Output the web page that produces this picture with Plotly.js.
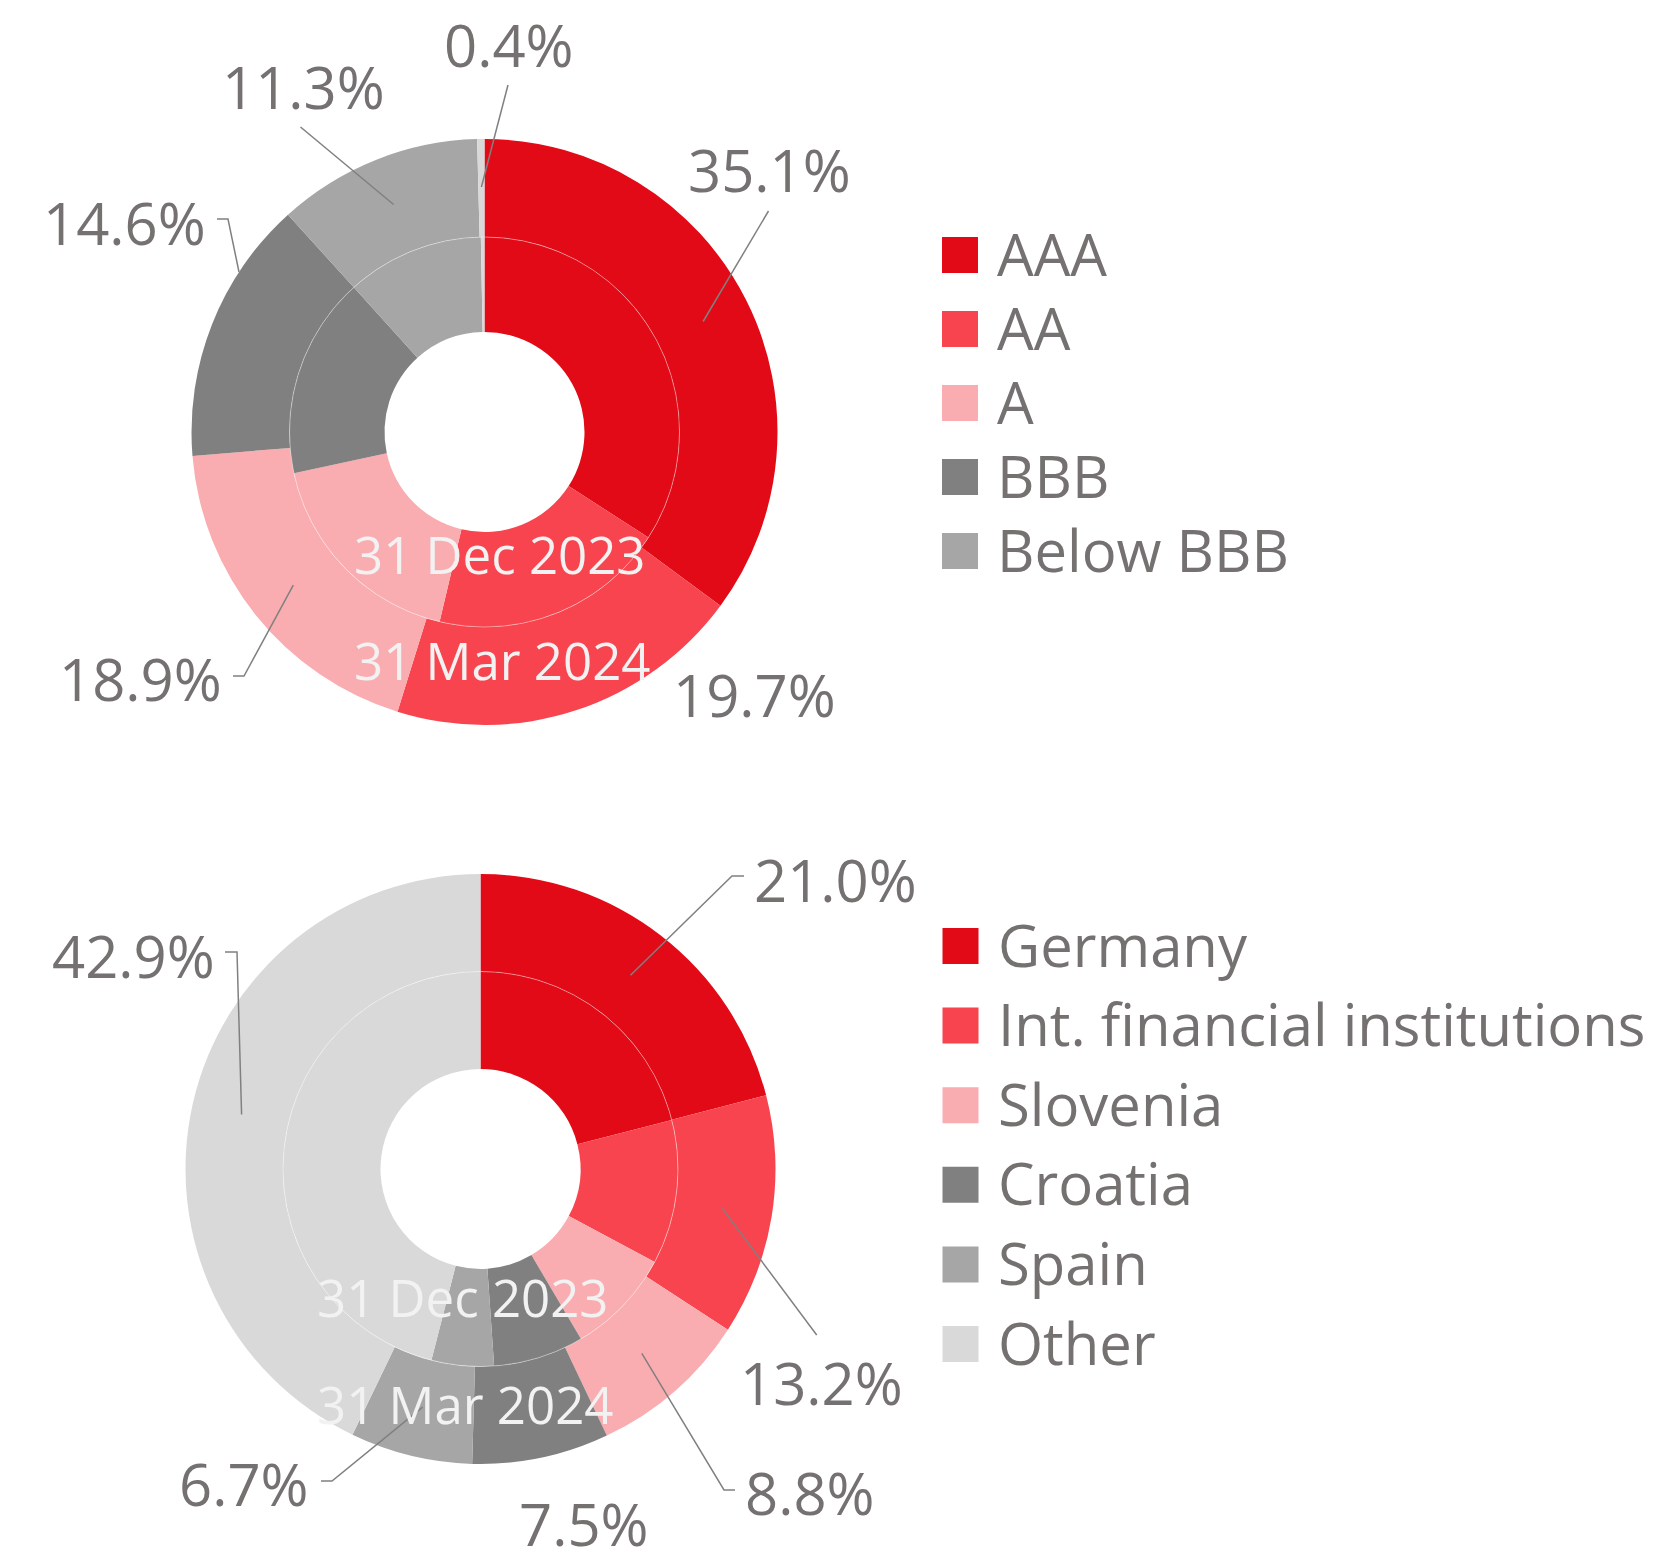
<!DOCTYPE html>
<html><head><meta charset="utf-8">
<script src="https://cdn.plot.ly/plotly-3.0.1.min.js"></script>
<style>html,body{margin:0;padding:0;background:#fff}#chart{width:1660px;height:1562px}</style>
</head><body><div id="chart"></div>
<script>
// ---- data ----
const ratingLabels = ['AAA', 'AA', 'A', 'BBB', 'Below BBB', 'Not rated'];
const ratingMar2024 = [35.1, 19.7, 18.9, 14.6, 11.3, 0.4];
const ratingDec2023 = [34.1, 19.6, 17.9, 16.7, 11.4, 0.3];
const ratingLegend = ['AAA', 'AA', 'A', 'BBB', 'Below BBB'];

const countryLabels = ['Germany', 'Int. financial institutions', 'Slovenia', 'Croatia', 'Spain', 'Other'];
const countryMar2024 = [21.0, 13.2, 8.8, 7.5, 6.7, 42.9];
const countryDec2023 = [21.0, 11.8, 8.7, 7.4, 5.1, 46.0];
const countryLegend = ['Germany', 'Int. financial institutions', 'Slovenia', 'Croatia', 'Spain', 'Other'];

const periodLabels = ['31 Dec 2023', '31 Mar 2024'];

// ---- style / layout ----
const palette = ['#E20A17', '#F7444E', '#F9ADB1', '#808080', '#A6A6A6', '#D9D9D9'];
const W = 1660, H = 1562;
const FONT = '"Open Sans", sans-serif';
const GREY_TXT = '#767171';
const LINE_CLR = '#808080';
const TXT_SIZE = 58;

const charts = [
  {
    labels: ratingLabels, outer: ratingMar2024, inner: ratingDec2023, legend: ratingLegend,
    cx: 484.5, cy: 432, rOuter: 293, rMid: 195, rHole: 100,
    legendX: 960, legendY0: 255, legendDy: 74, legendTextX: 995,
    periodPos: [[352, 554], [352, 660]],
    callouts: [
      {t: [769, 169], pts: [[768.5, 211]]},
      {t: [754, 694], pts: null},
      {t: [140, 678], pts: [[233, 676], [244, 676]]},
      {t: [124, 222], pts: [[217, 219], [228, 219]], r: 293, dAng: 11.5},
      {t: [303, 86], pts: [[300.5, 127]]},
      {t: [509, 44], pts: [[508, 85]]}
    ]
  },
  {
    labels: countryLabels, outer: countryMar2024, inner: countryDec2023, legend: countryLegend,
    cx: 480.5, cy: 1169, rOuter: 295, rMid: 197.5, rHole: 100,
    legendX: 960.5, legendY0: 946, legendDy: 79.6, legendTextX: 996,
    periodPos: [[315, 1297], [315, 1404]],
    callouts: [
      {t: [835, 879], pts: [[744, 876], [732, 876]]},
      {t: [821, 1382], pts: [[816.7, 1335]]},
      {t: [810, 1492], pts: [[735, 1490], [724, 1490]]},
      {t: [584, 1523], pts: null},
      {t: [244, 1483], pts: [[321, 1481], [332, 1481]]},
      {t: [133, 955], pts: [[225, 952], [237, 952]]}
    ]
  }
];

const traces = [];
const annotations = [];
const shapes = [];

charts.forEach(function (c) {
  const domOuter = {
    x: [(c.cx - c.rOuter) / W, (c.cx + c.rOuter) / W],
    y: [1 - (c.cy + c.rOuter) / H, 1 - (c.cy - c.rOuter) / H]
  };
  const domInner = {
    x: [(c.cx - c.rMid) / W, (c.cx + c.rMid) / W],
    y: [1 - (c.cy + c.rMid) / H, 1 - (c.cy - c.rMid) / H]
  };
  const colors = c.labels.map(function (_, i) { return palette[i]; });
  traces.push({
    type: 'pie', name: periodLabels[1], labels: c.labels, values: c.outer, domain: domOuter,
    hole: c.rMid / c.rOuter, sort: false, direction: 'clockwise', rotation: 0,
    marker: {colors: colors, line: {width: 0}}, textinfo: 'none', showlegend: false,
    hoverinfo: 'label+percent'
  });
  traces.push({
    type: 'pie', name: periodLabels[0], labels: c.labels, values: c.inner, domain: domInner,
    hole: c.rHole / c.rMid, sort: false, direction: 'clockwise', rotation: 0,
    marker: {colors: colors, line: {width: 0}}, textinfo: 'none', showlegend: false,
    hoverinfo: 'label+percent'
  });

  // faint separator between rings
  shapes.push({
    type: 'circle', xref: 'x', yref: 'y', layer: 'above',
    x0: c.cx - c.rMid, x1: c.cx + c.rMid, y0: c.cy - c.rMid, y1: c.cy + c.rMid,
    line: {color: 'rgba(255,255,255,0.4)', width: 1}
  });

  // callouts for the outer (31 Mar 2024) ring
  const total = c.outer.reduce(function (a, b) { return a + b; }, 0);
  let cum = 0;
  c.outer.forEach(function (v, i) {
    const mid = (cum + v / 2) / total * 360;
    cum += v;
    const co = c.callouts[i];
    annotations.push({
      xref: 'x', yref: 'y', x: co.t[0], y: co.t[1], xanchor: 'center', yanchor: 'middle',
      text: v.toFixed(1) + '%', showarrow: false,
      font: {family: FONT, size: TXT_SIZE, color: GREY_TXT}
    });
    if (co.pts) {
      const ang = (mid + (co.dAng || 0)) * Math.PI / 180;
      const r = co.r || 245;
      const ax = c.cx + r * Math.sin(ang);
      const ay = c.cy - r * Math.cos(ang);
      const pts = co.pts.concat([[ax, ay]]);
      const path = pts.map(function (p, k) { return (k ? 'L' : 'M') + p[0].toFixed(1) + ',' + p[1].toFixed(1); }).join(' ');
      shapes.push({
        type: 'path', xref: 'x', yref: 'y', layer: 'above', path: path,
        line: {color: LINE_CLR, width: 1.5}
      });
    }
  });

  // period labels inside the rings
  periodLabels.forEach(function (p, i) {
    annotations.push({
      xref: 'x', yref: 'y', x: c.periodPos[i][0], y: c.periodPos[i][1],
      xanchor: 'left', yanchor: 'middle', text: p, showarrow: false,
      font: {family: FONT, size: 51, color: '#F2F2F2'}
    });
  });

  // legend: swatches + labels
  const ly = c.legend.map(function (_, i) { return c.legendY0 + i * c.legendDy; });
  traces.push({
    type: 'scatter', mode: 'markers', x: c.legend.map(function () { return c.legendX; }), y: ly,
    marker: {symbol: 'square', size: 36, color: c.legend.map(function (_, i) { return palette[i]; }), line: {width: 0}},
    hoverinfo: 'skip', showlegend: false, cliponaxis: false
  });
  c.legend.forEach(function (name, i) {
    annotations.push({
      xref: 'x', yref: 'y', x: c.legendTextX, y: ly[i] - 2, xanchor: 'left', yanchor: 'middle',
      text: name, showarrow: false, font: {family: FONT, size: TXT_SIZE, color: GREY_TXT}
    });
  });
});

const layout = {
  width: W, height: H, margin: {l: 0, r: 0, t: 0, b: 0, pad: 0},
  paper_bgcolor: '#ffffff', plot_bgcolor: 'rgba(0,0,0,0)',
  showlegend: false,
  xaxis: {range: [0, W], visible: false, fixedrange: true, domain: [0, 1]},
  yaxis: {range: [H, 0], visible: false, fixedrange: true, domain: [0, 1]},
  annotations: annotations, shapes: shapes,
  font: {family: FONT}
};

Plotly.newPlot('chart', traces, layout, {displayModeBar: false, staticPlot: true});
</script>
</body></html>
